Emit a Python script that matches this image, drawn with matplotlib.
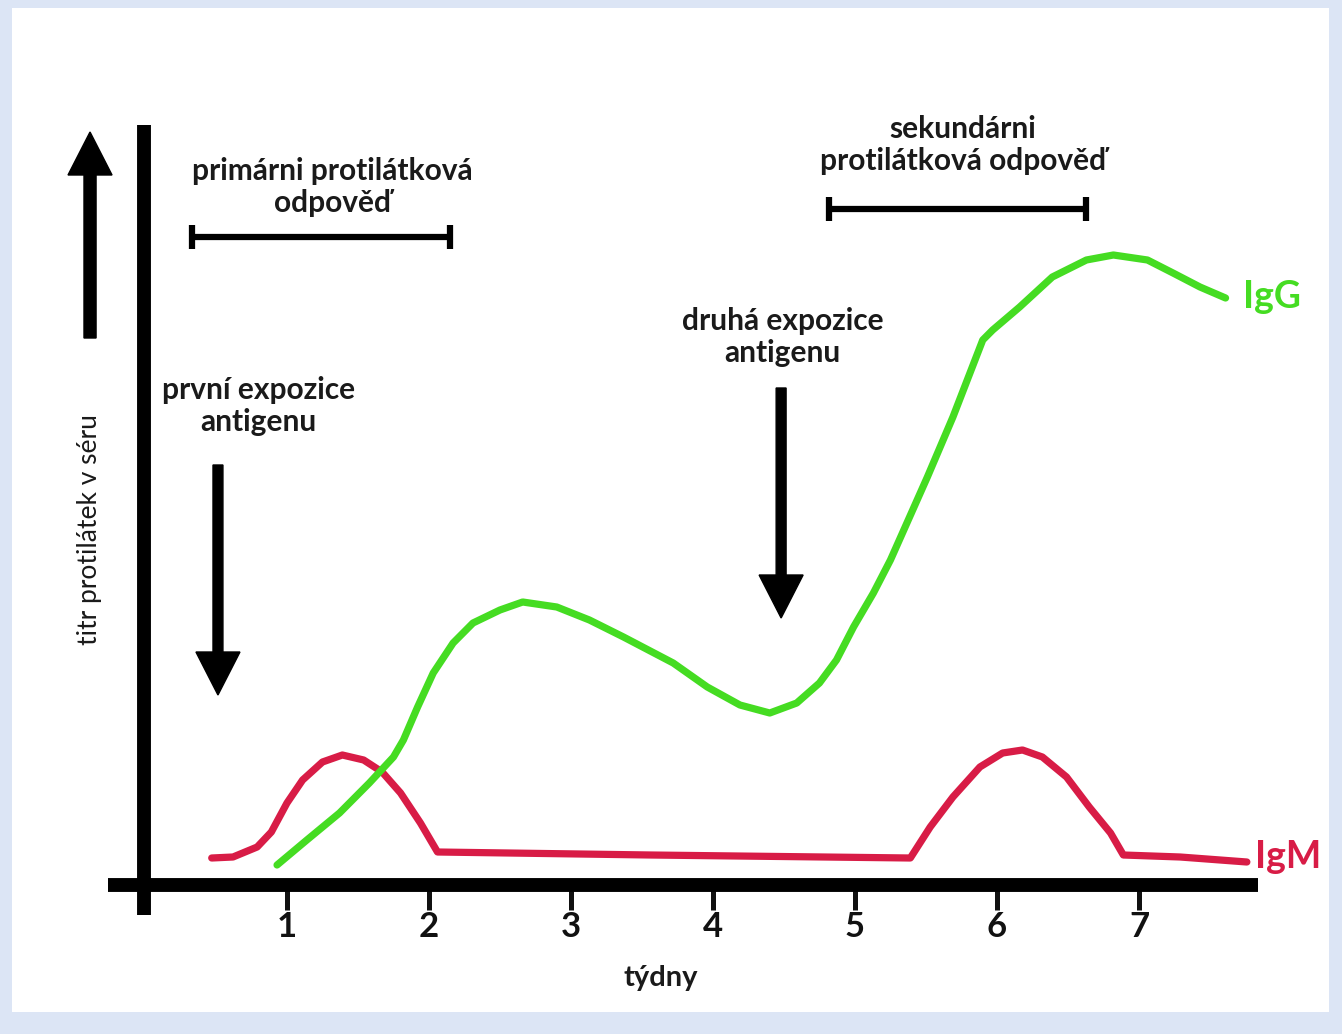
import matplotlib.pyplot as plt
import numpy as np
from matplotlib.patches import Rectangle

# data (x = weeks, y = titre, arbitrary units)
igm_x = [0.47, 0.62, 0.79, 0.89, 1.00, 1.11, 1.25, 1.39, 1.54, 1.67, 1.80, 1.94, 2.06,
         3.56, 5.39, 5.53, 5.69, 5.88, 6.04, 6.18, 6.32, 6.49, 6.65, 6.80, 6.89, 7.29, 7.76]
igm_y = [0.27, 0.28, 0.38, 0.53, 0.82, 1.05, 1.23, 1.30, 1.25, 1.13, 0.92, 0.62, 0.33,
         0.30, 0.27, 0.58, 0.88, 1.18, 1.32, 1.35, 1.28, 1.08, 0.78, 0.52, 0.30, 0.28, 0.23]

igg_x = [0.93, 1.14, 1.37, 1.58, 1.75, 1.82, 1.92, 2.03, 2.17, 2.31, 2.50, 2.66, 2.90,
         3.13, 3.37, 3.72, 3.96, 4.19, 4.40, 4.59, 4.75, 4.87, 4.99, 5.13, 5.25,
         5.51, 5.69, 5.90, 5.97, 6.16, 6.39, 6.63, 6.82, 7.06, 7.24, 7.43, 7.61]
igg_y = [0.20, 0.45, 0.72, 1.02, 1.28, 1.45, 1.78, 2.12, 2.42, 2.62, 2.75, 2.83, 2.78,
         2.65, 2.48, 2.22, 1.98, 1.80, 1.72, 1.82, 2.02, 2.25, 2.58, 2.92, 3.25,
         4.08, 4.68, 5.45, 5.55, 5.78, 6.08, 6.25, 6.30, 6.25, 6.12, 5.98, 5.87]

weeks = [1, 2, 3, 4, 5, 6, 7]

# exposure arrows: x, start y, tip y
expo_x = [0.514, 4.48]
expo_top = [4.20, 4.97]
expo_tip = [1.90, 2.67]

# response brackets: start, end, level
resp_start = [0.33, 4.82]
resp_end = [2.15, 6.63]
resp_level = [6.48, 6.76]

GREEN = '#45dc22'
RED = '#d81c46'
FONT = ['Lato', 'DejaVu Sans']

fig = plt.figure(figsize=(13.42, 10.34), dpi=100, facecolor='#dce5f5')
fig.add_artist(Rectangle((0.009, 0.021), 0.981, 0.971, transform=fig.transFigure,
                         facecolor='white', edgecolor='none', zorder=0))
ax = fig.add_axes([0, 0, 1, 1])
ax.set_facecolor('none')
ax.set_xlim(-1.021, 8.430)
ax.set_ylim(-1.49, 8.85)

# axes as thick black bars crossing at the origin
for s in ['top', 'right']:
    ax.spines[s].set_visible(False)
ax.spines['bottom'].set_position(('data', 0))
ax.spines['left'].set_position(('data', -0.01))
ax.spines['bottom'].set_bounds(-0.26, 7.84)
ax.spines['left'].set_bounds(-0.30, 7.60)
for s in ['bottom', 'left']:
    ax.spines[s].set_linewidth(10)
    ax.spines[s].set_capstyle('butt')
ax.set_xticks(weeks)
ax.set_xticklabels([str(w) for w in weeks], fontfamily=FONT, fontweight='bold', fontsize=25)
ax.tick_params(axis='x', direction='out', length=18, width=3.6, pad=1, colors='#111111')
ax.set_yticks([])

ax.plot(igm_x, igm_y, color=RED, lw=5.2, solid_capstyle='round', solid_joinstyle='round', zorder=3)
ax.plot(igg_x, igg_y, color=GREEN, lw=5.2, solid_capstyle='round', solid_joinstyle='round', zorder=4)

# arrows
ax.arrow(-0.387, 5.47, 0, 7.53 - 5.47, width=0.085, head_width=0.31, head_length=0.43,
         length_includes_head=True, color='black', zorder=5)
for xa, ya, yt in zip(expo_x, expo_top, expo_tip):
    ax.arrow(xa, ya, 0, yt - ya, width=0.07, head_width=0.31, head_length=0.43,
             length_includes_head=True, color='black', zorder=5)

# brackets
ax.hlines(resp_level, resp_start, resp_end, color='black', lw=4.5)
ax.vlines(resp_start, np.array(resp_level) - 0.12, np.array(resp_level) + 0.12, color='black', lw=4.5)
ax.vlines(resp_end, np.array(resp_level) - 0.12, np.array(resp_level) + 0.12, color='black', lw=4.5)

tkw = dict(fontfamily=FONT, fontweight='bold', fontsize=21.5, color='#1a1a1a',
           ha='center', va='center', linespacing=1.15)
ax.text(1.32, 6.98, 'primárni protilátková\nodpověď', **tkw)
ax.text(5.76, 7.40, 'sekundárni\nprotilátková odpověď', **tkw)
ax.text(4.49, 5.48, 'druhá expozice\nantigenu', **tkw)
ax.text(0.80, 4.79, 'první expozice\nantigenu', **tkw)

ax.text(7.73, 5.88, 'IgG', color=GREEN, fontfamily=FONT, fontweight='bold', fontsize=27,
        ha='left', va='center')
ax.text(7.82, 0.28, 'IgM', color=RED, fontfamily=FONT, fontweight='bold', fontsize=27,
        ha='left', va='center')
ax.text(3.63, -0.93, 'týdny', fontfamily=FONT, fontweight='bold', fontsize=21,
        color='#1a1a1a', ha='center', va='center')
ax.text(-0.39, 3.55, 'titr protilátek v séru', fontfamily=FONT, fontsize=19,
        color='#1a1a1a', ha='center', va='center', rotation=90)

fig.savefig('out.png', dpi=100, facecolor=fig.get_facecolor())
